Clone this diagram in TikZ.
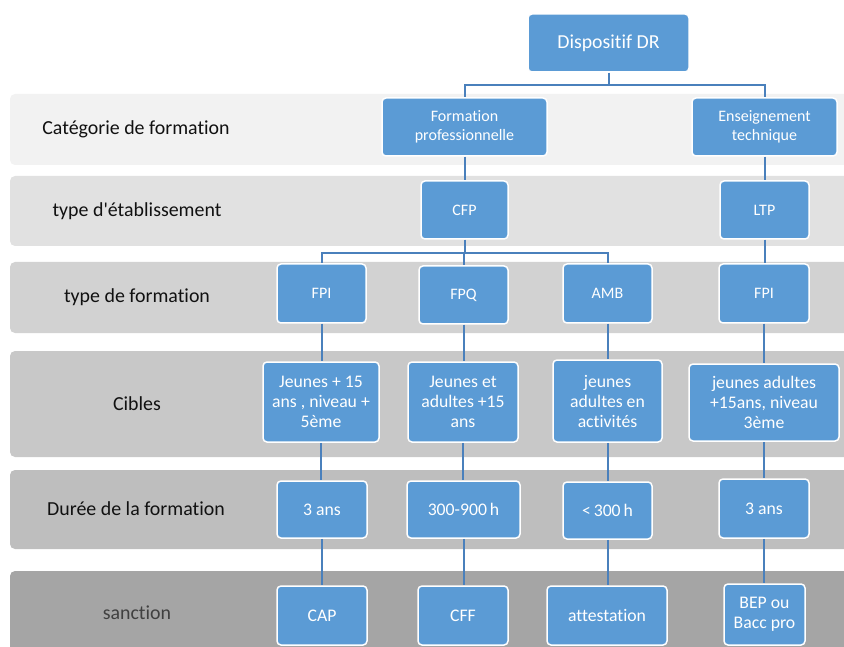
\documentclass[tikz,border=0pt]{standalone}
\usepackage{fontspec}
\setmainfont{Carlito}[Ligatures={TeXOff,CommonOff}]
\definecolor{boxblue}{HTML}{5B9BD5}
\definecolor{linkblue}{HTML}{4A80BC}
\definecolor{bandA}{HTML}{F2F2F2}
\definecolor{bandB}{HTML}{E1E1E1}
\definecolor{bandC}{HTML}{D2D2D2}
\definecolor{bandD}{HTML}{C8C8C8}
\definecolor{bandE}{HTML}{BEBEBE}
\definecolor{bandF}{HTML}{A5A5A5}
\definecolor{labeltext}{HTML}{111111}
\tikzset{
  band/.style={rounded corners=5pt},
  rowlabel/.style={text=labeltext, font=\fontsize{19.9}{23}\selectfont},
  unit/.style={rectangle, rounded corners=4pt, fill=boxblue, draw=white,
    line width=1.5pt, text=white, align=center, inner sep=0pt,
    font=\fontsize{16}{19}\selectfont},
  bigunit/.style={unit, font=\fontsize{17.7}{20}\selectfont},
  link/.style={draw=linkblue, line width=2pt}
}
\begin{document}
\begin{tikzpicture}[x=1pt,y=-1pt]
\useasboundingbox (0,0) rectangle (844,647);
\clip (0,0) rectangle (844,647);

% row bands
\fill[bandA, band] (10,94) rectangle (860,165);
\fill[bandB, band] (10,176) rectangle (860,246);
\fill[bandC, band] (10,262) rectangle (860,333);
\fill[bandD, band] (10,351) rectangle (860,457);
\fill[bandE, band] (10,470) rectangle (860,549);
\fill[bandF, band] (10,571) rectangle (860,680);

% row labels
\node[rowlabel] (lcat) at (136,129) {Catégorie de formation};
\node[rowlabel] (letab) at (137,211) {type d'établissement};
\node[rowlabel] (ltype) at (137,297) {type de formation};
\node[rowlabel] (lcib) at (137,404) {Cibles};
\node[rowlabel] (ldur) at (136,509) {Durée de la formation};
\node[rowlabel, text=black!75] (lsan) at (137,613) {sanction};

% connectors (drawn first, boxes sit on top)
\coordinate (jtop) at (608.5,85);
\coordinate (jcfp) at (464.5,253);

% boxes
\node[unit, minimum width=161pt, minimum height=58pt, font=\fontsize{19.8}{23}\selectfont] (dr) at (608.5,43) {Dispositif DR};
\node[unit, minimum width=165pt, minimum height=58pt] (fp) at (464.5,127) {Formation\\professionnelle};
\node[unit, minimum width=145pt, minimum height=58pt] (et) at (764.5,127) {Enseignement\\technique};
\node[unit, minimum width=87pt, minimum height=58pt] (cfp) at (464.5,210) {CFP};
\node[unit, minimum width=89pt, minimum height=58pt] (ltp) at (764.5,210) {LTP};

\node[unit, minimum width=89pt, minimum height=59pt] (fpi) at (321.5,293.5) {FPI};
\node[unit, minimum width=89pt, minimum height=58pt] (fpq) at (463.5,295) {FPQ};
\node[unit, minimum width=89pt, minimum height=59pt] (amb) at (607.5,293.5) {AMB};
\node[unit, minimum width=90pt, minimum height=59pt] (fpt) at (764,293.5) {FPI};

\node[bigunit, minimum width=116pt, minimum height=80pt] (c1) at (321,402) {Jeunes + 15\\ans , niveau +\\5ème};
\node[bigunit, minimum width=110pt, minimum height=80pt] (c2) at (463,402) {Jeunes et\\adultes +15\\ans};
\node[bigunit, minimum width=109pt, minimum height=82pt] (c3) at (607.5,401) {jeunes\\adultes en\\activités};
\node[bigunit, minimum width=150pt, minimum height=77pt] (c4) at (764,402.5) {jeunes adultes\\+15ans, niveau\\3ème};

\node[bigunit, minimum width=90pt, minimum height=57pt] (d1) at (322,509.5) {3 ans};
\node[bigunit, minimum width=113pt, minimum height=57pt] (d2) at (463.5,509.5) {300-900\,h};
\node[bigunit, minimum width=89pt, minimum height=57pt] (d3) at (607.5,510.5) {<\,300\,h};
\node[bigunit, minimum width=90pt, minimum height=59pt] (d4) at (764,508.5) {3 ans};

\node[bigunit, minimum width=90pt, minimum height=59pt] (s1) at (322,615.5) {CAP};
\node[bigunit, minimum width=90pt, minimum height=59pt] (s2) at (463,615.5) {CFF};
\node[bigunit, minimum width=120pt, minimum height=59pt] (s3) at (607,615.5) {attestation};
\node[bigunit, minimum width=81pt, minimum height=61pt] (s4) at (764.5,614.5) {BEP ou\\Bacc pro};

% connectors
\draw[link] (dr.south) -- (jtop);
\draw[link] (jtop) -| (fp.north);
\draw[link] (jtop) -| (et.north);
\draw[link] (fp.south) -- (fp.south |- cfp.north);
\draw[link] (et.south) -- (et.south |- ltp.north);

\draw[link] (cfp.south) -- (jcfp);
\draw[link] (jcfp) -| (fpi.north);
\draw[link] (jcfp) -| (amb.north);
\draw[link] (jcfp -| fpq.north) -- (fpq.north);
\draw[link] (ltp.south) -- (ltp.south |- fpt.north);

\foreach \a/\b in {fpi/c1, fpq/c2, amb/c3, fpt/c4, c1/d1, c2/d2, c3/d3, c4/d4, d1/s1, d2/s2, d3/s3, d4/s4}
  \draw[link] (\a.south) -- (\a.south |- \b.north);
\end{tikzpicture}
\end{document}
